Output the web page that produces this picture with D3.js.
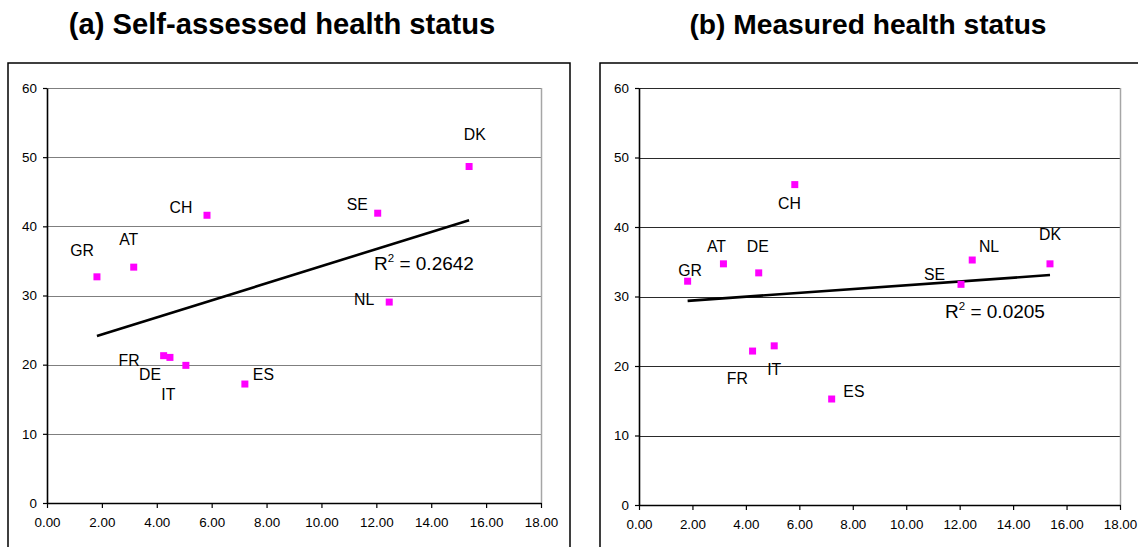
<!DOCTYPE html>
<html>
<head>
<meta charset="utf-8">
<script src="https://cdn.jsdelivr.net/npm/d3@7/dist/d3.min.js"></script>
<style>
  html, body { margin: 0; padding: 0; background: #fff; }
  svg { display: block; font-family: "Liberation Sans", Arial, sans-serif; }
</style>
</head>
<body>
<svg id="chart" width="1138" height="547"></svg>
<script>
// ---------------- DATA ----------------
const countries = ["GR", "AT", "CH", "SE", "DK", "NL", "FR", "DE", "IT", "ES"];
const xValues = [1.82, 3.16, 5.83, 12.05, 15.38, 12.47, 4.25, 4.48, 5.06, 7.21];
const selfAssessed = [32.7, 34.1, 41.6, 41.9, 48.65, 29.05, 21.3, 21.05, 19.9, 17.2];
const measured = [32.2, 34.7, 46.1, 31.75, 34.7, 35.25, 22.15, 33.4, 22.9, 15.25];
const xTicks = [0, 2, 4, 6, 8, 10, 12, 14, 16, 18];
const yTicks = [0, 10, 20, 30, 40, 50, 60];
const panelTitles = ["(a) Self-assessed health status", "(b) Measured health status"];
const r2Values = ["0.2642", "0.0205"];

// ---------------- LAYOUT ----------------
const panels = [
  {
    title: panelTitles[0], titleX: 282, titleSize: 29.2, yVals: selfAssessed, r2: r2Values[0],
    frame: { x0: 8, x1: 570, y0: 63 },
    plot: { x0: 47, x1: 541, y0: 88, y1: 503 },
    r2Pos: { x: 374, y: 270 },
    gridColor: "#7f7f7f",
    labels: {
      GR: ["end", -3, -21], AT: ["middle", -5, -22], CH: ["end", -14.7, -2],
      SE: ["end", -10, -3], DK: ["middle", 5.7, -27], NL: ["end", -15, 3],
      FR: ["end", -24, 10], DE: ["end", -9, 22.7], IT: ["middle", -17.5, 35],
      ES: ["start", 8, -4]
    }
  },
  {
    title: panelTitles[1], titleX: 868, titleSize: 28.2, yVals: measured, r2: r2Values[1],
    frame: { x0: 600, x1: 1150, y0: 63 },
    plot: { x0: 639, x1: 1120, y0: 88, y1: 505 },
    r2Pos: { x: 945, y: 317.7 },
    gridColor: "#2a2a2a",
    labels: {
      GR: ["middle", 2.5, -5.7], AT: ["middle", -7, -11.7], DE: ["middle", -1, -21],
      CH: ["middle", -5.3, 24.4], SE: ["end", -16, -4.6], NL: ["start", 6.7, -8.3],
      DK: ["middle", 0, -23.7], FR: ["end", -4.7, 33], IT: ["middle", 0, 28.7],
      ES: ["start", 11.7, -1.7]
    }
  }
];

const svg = d3.select("#chart");

function regression(xs, ys) {
  const mx = d3.mean(xs), my = d3.mean(ys);
  let sxy = 0, sxx = 0;
  xs.forEach((x, i) => { sxy += (x - mx) * (ys[i] - my); sxx += (x - mx) * (x - mx); });
  const b = sxy / sxx;
  return { a: my - b * mx, b };
}

panels.forEach(p => {
  const g = svg.append("g");

  // title
  g.append("text")
    .attr("x", p.titleX).attr("y", 34)
    .attr("text-anchor", "middle")
    .style("font-weight", "bold").style("font-size", p.titleSize + "px")
    .attr("fill", "#000")
    .text(p.title);

  // outer frame (open at bottom, cut by page)
  g.append("path")
    .attr("d", `M${p.frame.x0},560 V${p.frame.y0} H${p.frame.x1} V560`)
    .attr("fill", "none").attr("stroke", "#000").attr("stroke-width", 1.5);

  const x = d3.scaleLinear().domain([0, 18]).range([p.plot.x0, p.plot.x1]);
  const y = d3.scaleLinear().domain([0, 60]).range([p.plot.y1, p.plot.y0]);

  // gridlines
  g.append("g").selectAll("line")
    .data(yTicks.filter(t => t > 0))
    .join("line")
    .attr("x1", p.plot.x0).attr("x2", p.plot.x1)
    .attr("y1", d => Math.round(y(d)) + 0.5).attr("y2", d => Math.round(y(d)) + 0.5)
    .attr("stroke", p.gridColor).attr("stroke-width", 1.2);

  // right border
  g.append("line")
    .attr("x1", p.plot.x1 + 0.5).attr("x2", p.plot.x1 + 0.5)
    .attr("y1", p.plot.y0).attr("y2", p.plot.y1)
    .attr("stroke", "#a6a6a6").attr("stroke-width", 1.5);

  // axes
  const yAxis = g.append("g")
    .attr("transform", `translate(${p.plot.x0},0)`)
    .call(d3.axisLeft(y).tickValues(yTicks).tickFormat(d3.format(".0f")).tickSize(4).tickSizeOuter(0));
  const xAxis = g.append("g")
    .attr("transform", `translate(0,${p.plot.y1})`)
    .call(d3.axisBottom(x).tickValues(xTicks).tickFormat(d3.format(".2f")).tickSize(5).tickSizeOuter(0));

  [yAxis, xAxis].forEach(a => {
    a.select(".domain").attr("stroke", "#000").attr("stroke-width", 1.6);
    a.selectAll(".tick line").attr("stroke", "#000").attr("stroke-width", 1.2);
    a.selectAll(".tick text")
      .attr("fill", "#000")
      .style("font-size", "13.4px")
      .style("font-family", "'Liberation Sans', Arial, sans-serif");
  });
  yAxis.selectAll(".tick text").attr("x", -10).attr("dy", "0.32em");
  xAxis.selectAll(".tick text").attr("y", 14).attr("dy", "0.71em");

  // trend line
  const reg = regression(xValues, p.yVals);
  const xmin = d3.min(xValues), xmax = d3.max(xValues);
  g.append("line")
    .attr("x1", x(xmin)).attr("y1", y(reg.a + reg.b * xmin))
    .attr("x2", x(xmax)).attr("y2", y(reg.a + reg.b * xmax))
    .attr("stroke", "#000").attr("stroke-width", 2.6);

  // markers
  g.append("g").selectAll("rect")
    .data(countries.map((c, i) => ({ c, xv: xValues[i], yv: p.yVals[i] })))
    .join("rect")
    .attr("x", d => x(d.xv) - 3.5).attr("y", d => y(d.yv) - 3.5)
    .attr("width", 7).attr("height", 7)
    .attr("fill", "#ff00ff");

  // country labels
  g.append("g").selectAll("text")
    .data(countries.map((c, i) => ({ c, xv: xValues[i], yv: p.yVals[i] })))
    .join("text")
    .attr("x", d => x(d.xv) + p.labels[d.c][1])
    .attr("y", d => y(d.yv) + p.labels[d.c][2])
    .attr("text-anchor", d => p.labels[d.c][0])
    .style("font-size", "15.8px")
    .attr("fill", "#000")
    .text(d => d.c);

  // R² label
  const t = g.append("text")
    .attr("x", p.r2Pos.x).attr("y", p.r2Pos.y)
    .style("font-size", "19px")
    .attr("fill", "#000");
  t.append("tspan").text("R");
  t.append("tspan").attr("dy", -8).style("font-size", "11.5px").text("2");
  t.append("tspan").attr("dy", 8).text(" = " + p.r2);
});
</script>
</body>
</html>
